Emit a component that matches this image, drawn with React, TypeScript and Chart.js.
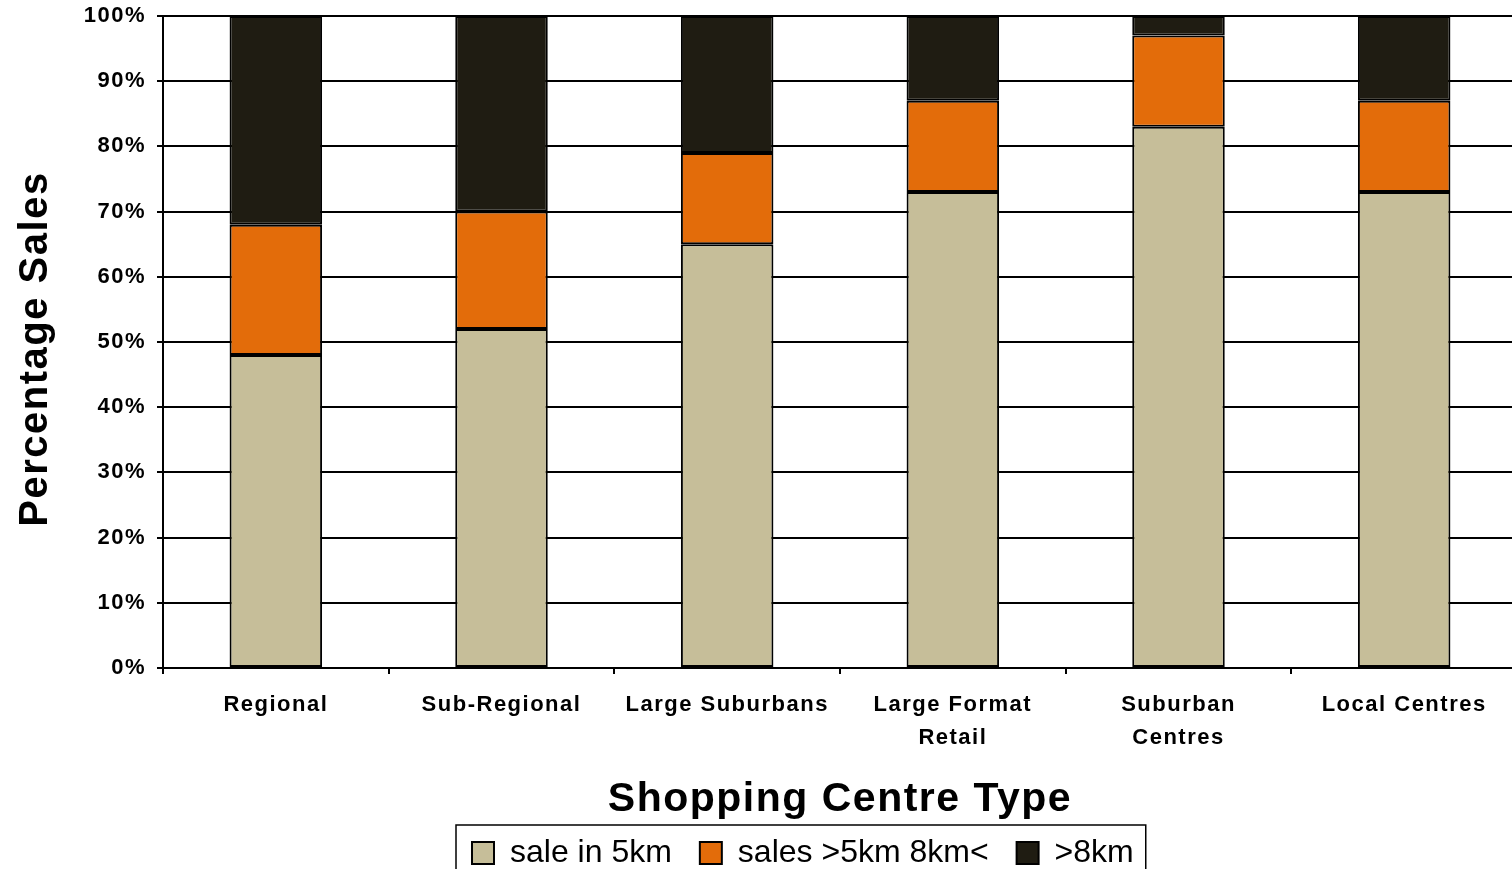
import React, { useEffect, useRef } from 'react';
import { Chart, registerables } from 'chart.js';

Chart.register(...registerables);

const categories: string[][] = [
  ['Regional'],
  ['Sub-Regional'],
  ['Large Suburbans'],
  ['Large Format', 'Retail'],
  ['Suburban', 'Centres'],
  ['Local Centres'],
];
const within5km = [48, 52, 65, 73, 83, 73];
const from5to8km = [20, 18, 14, 14, 14, 14];
const beyond8km = [32, 30, 21, 13, 3, 13];
const seriesNames = ['sale in 5km', 'sales >5km 8km<', '>8km'];
const seriesColors = ['#C6BE99', '#E36C0A', '#1F1C12'];
const yTickStep = 10;
const yMax = 100;
const xTitle = 'Shopping Centre Type';
const yTitle = 'Percentage Sales';

const FONT = '"Liberation Sans", Arial, Helvetica, sans-serif';
const LEGEND_PAD = 28;

const customPlugin = {
  id: 'customLook',
  afterLayout(chart: any) {
    const lg = chart.legend;
    if (lg && lg.lineWidths) {
      const cur = (lg.left + LEGEND_PAD + lg.right - lg.lineWidths[0]) / 2;
      const shift = 472 - cur;
      lg.left += shift;
      lg.right += shift;
      lg.top -= 5;
      lg.bottom -= 5;
      if (!lg._wrappedDraw) {
        const orig = lg.draw;
        lg.draw = function (...args: any[]) {
          const c = this.ctx;
          const prev = c.letterSpacing;
          c.letterSpacing = '0px';
          orig.apply(this, args);
          c.letterSpacing = prev;
        };
        lg._wrappedDraw = true;
      }
    }
    const ys = chart.scales.y;
    if (ys && !ys._wrappedTitle) {
      const origTitle = ys.drawTitle;
      ys.drawTitle = function (...args: any[]) {
        const c = this.ctx;
        c.save();
        c.translate(0, 7);
        origTitle.apply(this, args);
        c.restore();
      };
      ys._wrappedTitle = true;
    }
  },
  beforeDraw(chart: any) {
    chart.ctx.letterSpacing = '1.5px';
  },
  afterDraw(chart: any) {
    const ctx = chart.ctx;
    ctx.letterSpacing = '0px';
    const lg = chart.legend;
    if (!lg || !lg.lineWidths) return;
    const start = (lg.left + LEGEND_PAD + lg.right - lg.lineWidths[0]) / 2;
    const textEnd = start + lg.lineWidths[0] - LEGEND_PAD;
    ctx.save();
    ctx.strokeStyle = '#000';
    ctx.lineWidth = 1.5;
    const left = start - 16;
    const top = 825;
    ctx.strokeRect(left, top, textEnd + 12 - left, 90);
    ctx.restore();
  },
};

export default function App() {
  const ref = useRef<HTMLCanvasElement>(null);
  useEffect(() => {
    if (!ref.current) return;
    const values = [within5km, from5to8km, beyond8km];
    const chart = new Chart(ref.current, {
      type: 'bar',
      data: {
        labels: categories,
        datasets: values.map((v, i) => ({
          label: seriesNames[i],
          data: v,
          backgroundColor: seriesColors[i],
          borderColor: '#000',
          borderWidth: 2,
          borderSkipped: false,
          barPercentage: 0.41,
          categoryPercentage: 1,
        })),
      },
      options: {
        animation: false,
        responsive: false,
        devicePixelRatio: 1,
        layout: { padding: { left: 0, right: 3, top: 16, bottom: 0 } },
        plugins: {
          title: { display: false },
          tooltip: { enabled: false },
          legend: {
            display: true,
            position: 'bottom',
            labels: {
              boxWidth: 22,
              boxHeight: 22,
              padding: LEGEND_PAD,
              color: '#000',
              font: { family: FONT, size: 32, weight: 'normal' },
            },
          },
        },
        scales: {
          x: {
            stacked: true,
            afterFit: (s: any) => { s.height = 146; s.paddingLeft = 0; s.paddingRight = 0; },
            grid: {
              display: true,
              drawOnChartArea: false,
              drawTicks: true,
              tickLength: 6,
              color: '#000',
              lineWidth: 2,
              offset: true,
            },
            border: { display: true, color: '#000', width: 2 },
            ticks: {
              color: '#000',
              padding: 14,
              maxRotation: 0,
              autoSkip: false,
              font: { family: FONT, size: 22, weight: 'bold', lineHeight: '33px' },
            },
            title: {
              display: true,
              text: xTitle,
              color: '#000',
              padding: 0,
              font: { family: FONT, size: 41, weight: 'bold', lineHeight: 0.68 },
            },
          },
          y: {
            stacked: true,
            min: 0,
            max: yMax,
            afterFit: (s: any) => { s.width = 163; s.paddingTop = 0; s.paddingBottom = 0; },
            grid: {
              color: '#000',
              lineWidth: 2,
              drawTicks: true,
              tickLength: 6,
            },
            border: { display: true, color: '#000', width: 2 },
            ticks: {
              stepSize: yTickStep,
              color: '#000',
              padding: 11,
              font: { family: FONT, size: 22, weight: 'bold' },
              callback: (v: any) => `${v}%`,
            },
            title: {
              display: true,
              text: yTitle,
              color: '#000',
              padding: { top: 12, bottom: 0 },
              font: { family: FONT, size: 40, weight: 'bold', lineHeight: 1.2 },
            },
          },
        },
      },
      plugins: [customPlugin],
    } as any);
    return () => chart.destroy();
  }, []);

  return (
    <div style={{ position: 'absolute', left: 0, top: 0, width: 1512, height: 869, overflow: 'hidden', background: '#fff' }}>
      <canvas ref={ref} width={1520} height={884} style={{ width: 1520, height: 884, display: 'block' }} />
    </div>
  );
}
